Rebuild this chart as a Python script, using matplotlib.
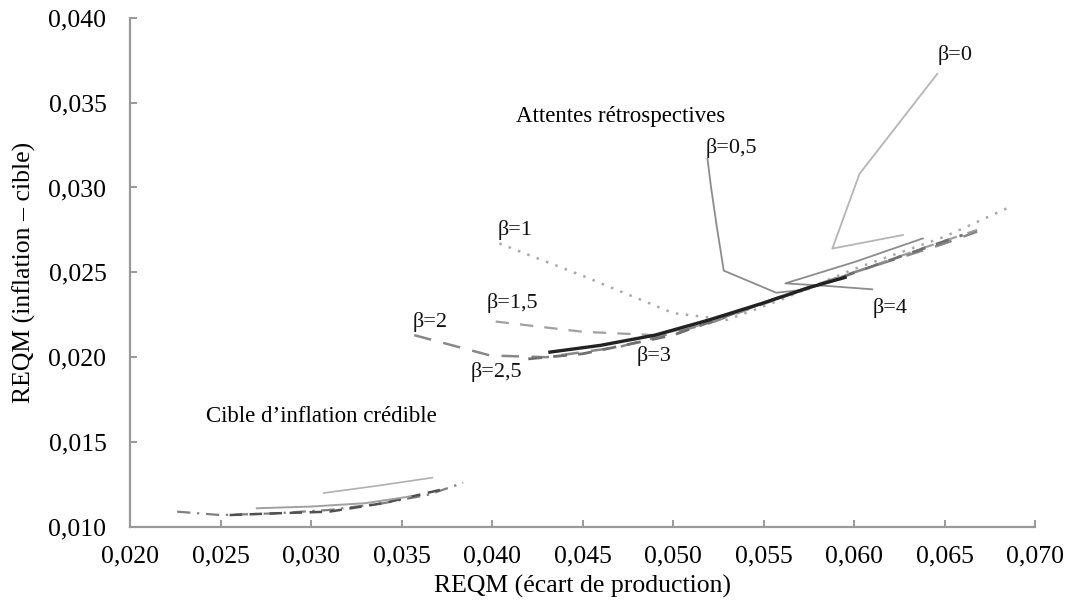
import matplotlib.pyplot as plt
from matplotlib.ticker import FuncFormatter

plt.rcParams['font.family'] = ['Liberation Serif', 'DejaVu Serif']

# Attentes rétrospectives: one curve per beta
b0_x = [0.0646, 0.0603, 0.0588, 0.0627]
b0_y = [0.0367, 0.0308, 0.0264, 0.0272]

b05_x = [0.0519, 0.0521, 0.0524, 0.0528, 0.0557, 0.0575]
b05_y = [0.0317, 0.0300, 0.0278, 0.0251, 0.0238, 0.0240]

b4_x = [0.0610, 0.0585, 0.0562, 0.0600, 0.0638]
b4_y = [0.0240, 0.0242, 0.02435, 0.0256, 0.0270]

b1_x = [0.0404, 0.0450, 0.0500, 0.0530, 0.0560, 0.0600, 0.0650, 0.0685]
b1_y = [0.0267, 0.0248, 0.0226, 0.0222, 0.0234, 0.0252, 0.0271, 0.0288]

b15_x = [0.0402, 0.0450, 0.0490, 0.0520, 0.0560, 0.0600, 0.0640, 0.0668]
b15_y = [0.0221, 0.0215, 0.0213, 0.0220, 0.0235, 0.0250, 0.0265, 0.0275]

b2_x = [0.0357, 0.0399, 0.0430, 0.0470, 0.0520, 0.0560, 0.0600, 0.0650, 0.0668]
b2_y = [0.0213, 0.0201, 0.0200, 0.0206, 0.0220, 0.0236, 0.0250, 0.0267, 0.0274]

b25_x = [0.0420, 0.0450, 0.0500, 0.0550, 0.0590, 0.0630, 0.0660]
b25_y = [0.0199, 0.0202, 0.0213, 0.0232, 0.0246, 0.0261, 0.0272]

b3_x = [0.0432, 0.0460, 0.0490, 0.0520, 0.0550, 0.0575, 0.0595]
b3_y = [0.0203, 0.0207, 0.0213, 0.0222, 0.0232, 0.0241, 0.0247]

# Cible d'inflation crédible
c1_x = [0.0307, 0.0335, 0.0367]
c1_y = [0.0120, 0.0124, 0.0129]

c2_x = [0.0226, 0.0250, 0.0280, 0.0310, 0.0340, 0.0365, 0.0384]
c2_y = [0.0109, 0.0107, 0.0108, 0.0110, 0.0114, 0.0119, 0.0126]

c3_x = [0.0255, 0.0280, 0.0310, 0.0340, 0.0372]
c3_y = [0.0107, 0.0108, 0.0109, 0.0114, 0.0122]

c4_x = [0.0270, 0.0300, 0.0330, 0.0355]
c4_y = [0.0111, 0.0112, 0.0114, 0.0118]

x_ticks = [0.020, 0.025, 0.030, 0.035, 0.040, 0.045, 0.050, 0.055, 0.060, 0.065, 0.070]
y_ticks = [0.010, 0.015, 0.020, 0.025, 0.030, 0.035, 0.040]

fig = plt.figure(figsize=(10.66, 6.12), dpi=100)
ax = fig.add_axes([0.122, 0.139, 0.849, 0.832])

ax.plot(b0_x, b0_y, color='#b5b5b5', lw=1.3)
ax.plot(b05_x, b05_y, color='#8c8c8c', lw=1.3)
ax.plot(b4_x, b4_y, color='#8c8c8c', lw=1.3)
ax.plot(b1_x, b1_y, color='#a8a8a8', lw=1.8, ls=(0, (1, 3)))
ax.plot(b15_x, b15_y, color='#a0a0a0', lw=1.6, ls=(0, (6, 5)))
ax.plot(b2_x, b2_y, color='#888888', lw=1.8, ls=(0, (7, 5)))
ax.plot(b25_x, b25_y, color='#707070', lw=2.0, ls=(0, (5, 4)))
ax.plot(b3_x, b3_y, color='#222222', lw=2.4)

ax.plot(c1_x, c1_y, color='#b0b0b0', lw=1.2)
ax.plot(c2_x, c2_y, color='#808080', lw=1.6, ls=(0, (6, 3, 1, 3)))
ax.plot(c3_x, c3_y, color='#505050', lw=1.8, ls=(0, (5, 3)))
ax.plot(c4_x, c4_y, color='#a0a0a0', lw=1.4)

txt = dict(fontsize=16, color='#111111')
ax.text(0.0413, 0.0342, 'Attentes rétrospectives', ha='left', va='center', fontsize=16.5)
ax.text(0.0242, 0.0165, 'Cible d\u2019inflation crédible', ha='left', va='center', fontsize=16.5)
ax.text(0.0656, 0.0378, '\u03b2=0', ha='center', va='center', **txt)
ax.text(0.0518, 0.0323, '\u03b2=0,5', ha='left', va='center', **txt)
ax.text(0.0403, 0.0275, '\u03b2=1', ha='left', va='center', **txt)
ax.text(0.0397, 0.0232, '\u03b2=1,5', ha='left', va='center', **txt)
ax.text(0.0356, 0.0221, '\u03b2=2', ha='left', va='center', **txt)
ax.text(0.0388, 0.0191, '\u03b2=2,5', ha='left', va='center', **txt)
ax.text(0.0480, 0.0201, '\u03b2=3', ha='left', va='center', **txt)
ax.text(0.0610, 0.0229, '\u03b2=4', ha='left', va='center', **txt)

ax.set_xlim(0.020, 0.070)
ax.set_ylim(0.010, 0.040)
ax.set_xticks(x_ticks)
ax.set_yticks(y_ticks)
comma = FuncFormatter(lambda v, p: f'{v:.3f}'.replace('.', ','))
ax.xaxis.set_major_formatter(comma)
ax.yaxis.set_major_formatter(comma)
ax.tick_params(direction='in', length=5, width=1.2, color='#888888', labelsize=18.5)
ax.tick_params(axis='x', pad=13)
ax.tick_params(axis='y', pad=17)

for side in ('top', 'right'):
    ax.spines[side].set_visible(False)
for side in ('left', 'bottom'):
    ax.spines[side].set_color('#999999')
    ax.spines[side].set_linewidth(1.6)

ax.set_xlabel('REQM (écart de production)', fontsize=18.5, labelpad=6)
ax.set_ylabel('REQM (inflation \u2013 cible)', fontsize=18.5, labelpad=9)

fig.savefig('out.png', dpi=100)
